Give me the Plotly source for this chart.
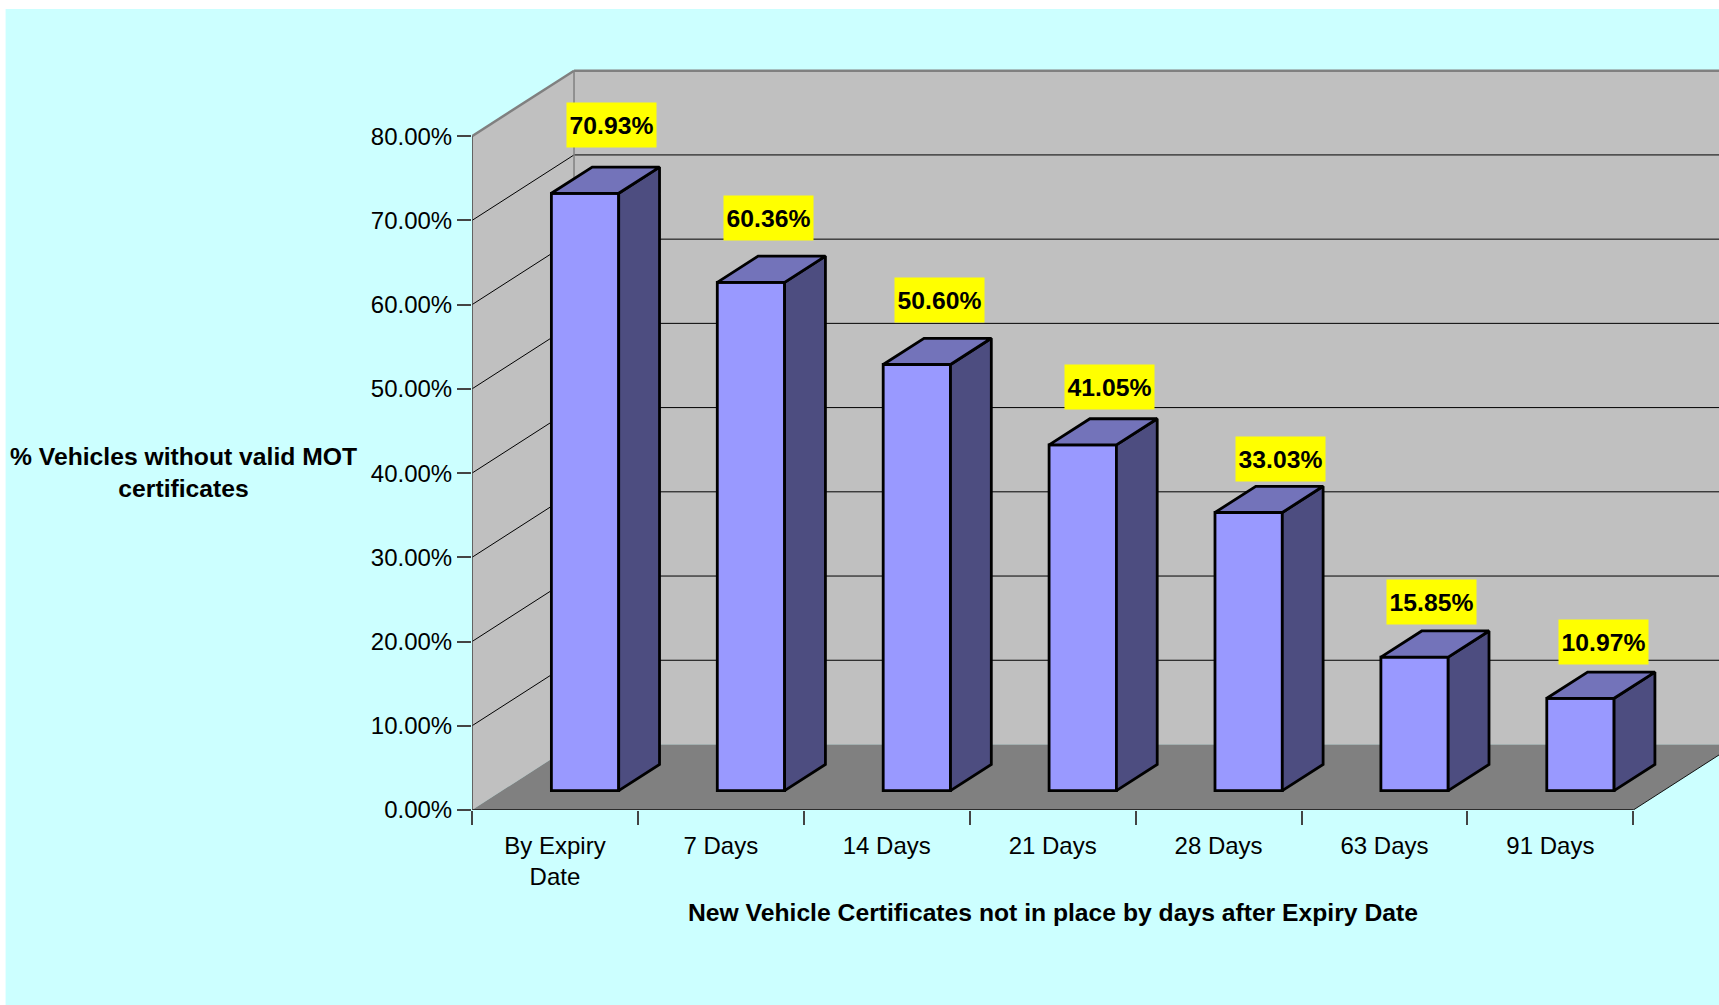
import plotly.graph_objects as go

categories = ["By Expiry<br>Date", "7 Days", "14 Days", "21 Days", "28 Days", "63 Days", "91 Days"]
values = [70.93, 60.36, 50.60, 41.05, 33.03, 15.85, 10.97]
labels = ["70.93%", "60.36%", "50.60%", "41.05%", "33.03%", "15.85%", "10.97%"]
y_ticks = [0, 10, 20, 30, 40, 50, 60, 70, 80]
y_tick_text = ["0.00%", "10.00%", "20.00%", "30.00%", "40.00%", "50.00%", "60.00%", "70.00%", "80.00%"]
# where each yellow label was dragged to, relative to its bar
label_dx = [0.339, 0.285, 0.317, 0.341, 0.373, 0.285, 0.319]
label_dy = [10.46, 9.98, 9.98, 9.23, 8.67, 8.79, 8.93]

W, H = 1719, 1005
X0, Y0 = 472.3, 809.8          # pixel of the axes origin
PX_X, PX_Y = 165.86, 8.42      # pixels per category, pixels per percent
TOP = 60
plot_w, plot_h = W - X0, Y0 - TOP

DX, DY = 102 / PX_X, 65.5 / PX_Y   # depth of the 3D box, in axis units
F0, F1 = 0.295, 0.695              # front and back of bars, as a share of depth
BAR_W = 67.3 / PX_X
n = len(values)
FONT = "Liberation Sans"

WALL, FLOOR, EDGE = "#C0C0C0", "#808080", "#808080"
FRONT, SIDE, TOPC = "#9999FF", "#4D4D80", "#7373BA"


def path(pts):
    return "M " + " L ".join(f"{x} {y}" for x, y in pts) + " Z"


def poly_shape(pts, color):
    return dict(type="path", path=path(pts), xref="x", yref="y", layer="below",
                fillcolor=color, line=dict(width=0))


def line_shape(a, b, color, width):
    return dict(type="line", x0=a[0], y0=a[1], x1=b[0], y1=b[1], xref="x", yref="y",
                layer="below", line=dict(color=color, width=width))


shapes = [dict(type="rect", xref="paper", yref="paper", layer="below",
               x0=(6 - X0) / plot_w, x1=1.01,
               y0=-(H + 6 - Y0) / plot_h, y1=(Y0 - 9) / plot_h,
               fillcolor="#CCFFFF", line=dict(width=0))]
top = y_ticks[-1]
shapes += [
    poly_shape([(0, 0), (DX, DY), (DX, top + DY), (0, top)], WALL),
    poly_shape([(DX, DY), (n + DX, DY), (n + DX, top + DY), (DX, top + DY)], WALL),
    poly_shape([(0, 0), (n, 0), (n + DX, DY), (DX, DY)], FLOOR),
]
for t in y_ticks[1:-1]:
    shapes.append(line_shape((0, t), (DX, t + DY), "black", 1))
    shapes.append(line_shape((DX, t + DY), (n + DX, t + DY), "black", 1))
shapes += [
    line_shape((DX, DY), (DX, top + DY), EDGE, 1.5),
    line_shape((0, top), (DX, top + DY), EDGE, 2.5),
    line_shape((DX, top + DY), (n + DX, top + DY), EDGE, 2.5),
    line_shape((n, 0), (n + DX, DY), "#111111", 1),
]

fig = go.Figure()

centers = [i + 0.5 for i in range(n)]
base = F0 * DY
fig.add_trace(go.Bar(
    x=[c + F0 * DX for c in centers], y=values, base=base, width=BAR_W,
    marker=dict(color=FRONT, line=dict(color="black", width=2.8)),
    showlegend=False, hoverinfo="skip"))

for c, v in zip(centers, values):
    xl = c + F0 * DX - BAR_W / 2
    xr = xl + BAR_W
    d_x, d_y = (F1 - F0) * DX, (F1 - F0) * DY
    side = [(xr, base), (xr + d_x, base + d_y), (xr + d_x, base + d_y + v), (xr, base + v), (xr, base)]
    cap = [(xl, base + v), (xr, base + v), (xr + d_x, base + v + d_y), (xl + d_x, base + v + d_y), (xl, base + v)]
    for pts, col in ((side, SIDE), (cap, TOPC)):
        fig.add_trace(go.Scatter(
            x=[p[0] for p in pts], y=[p[1] for p in pts], mode="lines", fill="toself",
            fillcolor=col, line=dict(color="black", width=2.8),
            showlegend=False, hoverinfo="skip"))

# axis lines that stop where the chart box stops
fig.add_trace(go.Scatter(x=[0, n], y=[0, 0], mode="lines", cliponaxis=False,
                         line=dict(color="#111111", width=1.5), showlegend=False, hoverinfo="skip"))
fig.add_trace(go.Scatter(x=[0, 0], y=[0, top], mode="lines", cliponaxis=False,
                         line=dict(color="#444444", width=1.5), showlegend=False, hoverinfo="skip"))

BOLD = dict(family=FONT, size=24.7, color="black")
annotations = [
    dict(x=i + 0.5 + dx, y=v + dy, xref="x", yref="y", text=f"<b>{lab}</b>", showarrow=False,
         xanchor="center", yanchor="middle",
         bgcolor="#FFFF00", width=87, height=42, align="center", valign="middle", font=BOLD)
    for i, (v, lab, dx, dy) in enumerate(zip(values, labels, label_dx, label_dy))
]
annotations.append(dict(
    x=(184 - X0) / plot_w, y=(Y0 - 472) / plot_h, xref="paper", yref="paper", showarrow=False,
    xanchor="center", yanchor="middle",
    text="<b>% Vehicles without valid MOT<br>certificates</b>", align="center", font=BOLD))
annotations.append(dict(
    x=3.5, y=-(912 - Y0) / plot_h, xref="x", yref="paper", showarrow=False,
    xanchor="center", yanchor="middle",
    text="<b>New Vehicle Certificates not in place by days after Expiry Date</b>", font=BOLD))

TICK_FONT = dict(family=FONT, size=24, color="black")
fig.update_layout(
    width=W, height=H, autosize=False,
    margin=dict(l=X0, r=0, t=TOP, b=H - Y0, pad=0),
    paper_bgcolor="white", plot_bgcolor="rgba(0,0,0,0)",
    font=dict(family=FONT, size=24, color="black"),
    barmode="overlay", hovermode=False, showlegend=False,
    shapes=shapes, annotations=annotations,
    xaxis=dict(type="linear", range=[0, plot_w / PX_X], tickmode="array", tickvals=centers,
               ticktext=categories, ticks="", showgrid=False, zeroline=False, showline=False,
               ticklabelstandoff=19, tickfont=TICK_FONT,
               minor=dict(tickmode="array", tickvals=list(range(n + 1)), ticks="outside", ticklen=14,
                          tickwidth=1.5, tickcolor="#444444", showgrid=False)),
    yaxis=dict(type="linear", range=[0, plot_h / PX_Y], tickmode="array", tickvals=y_ticks,
               ticktext=y_tick_text, ticks="outside", ticklen=14, tickwidth=1.5, tickcolor="#444444",
               showgrid=False, zeroline=False, showline=False, tickfont=TICK_FONT),
)

fig.write_html("out.html", config={"displayModeBar": False, "responsive": False},
               post_script="document.body.style.margin='0';document.body.style.overflow='hidden';")
